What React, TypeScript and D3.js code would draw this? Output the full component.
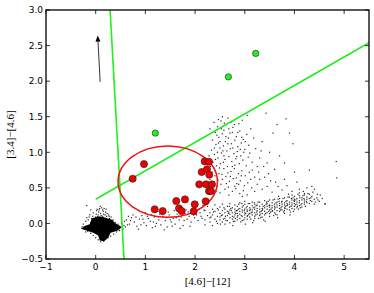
import React from "react";
import * as d3 from "d3";

const xTicks = [-1, 0, 1, 2, 3, 4, 5];
const yTicks = [-0.5, 0.0, 0.5, 1.0, 1.5, 2.0, 2.5, 3.0];

// dense stellar locus outline (data units)
const coreOutline: [number, number][] = [
  [-0.08, 0.07], [0.05, 0.1], [0.15, 0.09], [0.33, 0.05], [0.4, 0.0], [0.53, -0.05],
  [0.45, -0.1], [0.3, -0.13], [0.25, -0.2], [0.17, -0.25], [0.08, -0.24], [0.05, -0.17],
  [-0.05, -0.13], [-0.28, -0.08], [-0.24, -0.04], [-0.12, -0.01],
];

const coreFuzz: [number, number][] = [
  [-0.18,0.08],[-0.12,0.12],[-0.05,0.15],[0.02,0.18],[0.08,0.21],[0.14,0.19],[0.2,0.16],[0.26,0.12],[0.31,0.09],[0.35,0.05],
  [-0.2,0.03],[-0.15,0.05],[-0.08,0.07],[0.0,0.09],[0.05,0.12],[0.1,0.14],[0.16,0.13],[0.22,0.1],[0.28,0.07],[0.04,0.05],
  [0.09,0.08],[0.13,0.06],[0.18,0.07],[0.24,0.04],[-0.1,0.01],[-0.02,0.03],[0.06,0.16],[0.11,0.11],[0.19,0.12],[0.01,0.13],
  [-0.06,0.1],[0.15,0.17],[0.23,0.14],[0.07,0.19],[0.12,0.22],[0.03,0.2],[0.17,0.21],[-0.13,0.09],[0.27,0.1],[0.33,0.02],
  [0.4,0.01],[0.45,-0.01],[0.52,0.0],[0.57,-0.03],[0.55,-0.08],[0.48,-0.1],[0.42,-0.12],[0.36,-0.15],[0.3,-0.18],[0.25,-0.2],
  [0.2,-0.22],[0.16,-0.25],[0.1,-0.26],[0.05,-0.23],[0.0,-0.2],[-0.05,-0.17],[-0.1,-0.14],[-0.16,-0.11],[-0.22,-0.08],[-0.27,-0.05],
  [-0.25,-0.01],[-0.28,-0.07],[-0.2,-0.12],[0.6,-0.05],[0.64,-0.02],[0.58,0.03],[0.38,-0.05],[0.44,-0.06],[-0.18,0.25],[-0.1,0.19],
  [0.09,0.24],[0.21,0.2],[0.04,0.09],[0.14,0.1],[-0.03,0.06],[0.19,0.03],
];

const trail: [number, number][] = [
  [0.62,0.05],[0.68,-0.01],[0.72,0.08],[0.78,0.02],[0.83,-0.04],[0.88,0.06],[0.93,0.11],[0.97,0.01],[1.02,-0.03],[1.06,0.07],
  [1.1,0.03],[1.14,-0.06],[1.18,0.09],[1.22,0.0],[1.27,0.05],[1.31,-0.02],[1.35,0.1],[1.4,0.04],[1.44,-0.05],[1.48,0.12],
  [1.52,0.02],[1.56,0.07],[1.6,-0.01],[1.64,0.13],[1.68,0.05],[1.72,0.09],[1.76,-0.03],[1.8,0.14],[1.84,0.06],[1.88,0.1],
  [1.92,0.02],[1.95,0.16],[1.99,0.08],[2.03,0.12],[2.06,0.04],[0.75,0.12],[1.0,0.15],[1.25,0.17],[0.86,-0.08],[1.38,-0.09],
  [1.58,0.18],[1.7,-0.07],[2.1,0.15],[2.14,0.07],[2.18,0.19],[0.66,0.1],[1.12,0.12],[1.46,0.16],[1.9,-0.04],[1.62,0.08],
  [0.7,0.04],[0.81,0.09],[0.91,-0.02],[1.04,0.1],[1.16,0.02],[1.29,0.13],[1.42,0.08],[1.54,-0.04],[1.66,0.1],[1.78,0.04],
  [1.86,0.16],[1.97,0.12],[2.08,0.2],[2.12,0.1],[2.16,0.25],[2.05,0.27],[0.95,0.06],[1.2,-0.04],[1.5,0.05],[1.82,0.19],
];

const plume: [number, number][] = [
  [2.38,1.42],[2.45,1.36],[2.52,1.44],[2.58,1.31],[2.63,1.39],[2.7,1.27],[2.76,1.35],[2.83,1.22],[2.9,1.3],[2.97,1.18],
  [3.04,1.25],[2.41,1.28],[2.48,1.21],[2.55,1.26],[2.61,1.15],[2.67,1.2],[2.73,1.12],[2.8,1.17],[2.86,1.08],[2.93,1.13],
  [3.0,1.04],[3.08,1.1],[2.35,1.17],[2.42,1.11],[2.5,1.06],[2.57,1.09],[2.64,1.02],[2.71,1.05],[2.78,0.98],[2.85,1.01],
  [2.92,0.95],[3.1,0.99],[2.33,1.03],[2.39,0.97],[2.46,0.92],[2.53,0.99],[2.6,0.9],[2.68,0.94],[2.74,0.87],[2.82,0.91],
  [2.89,0.84],[2.96,0.89],[3.03,0.81],[3.15,0.86],[2.36,0.86],[2.43,0.81],[2.51,0.84],[2.58,0.77],[2.65,0.8],[2.72,0.73],
  [2.79,0.77],[2.87,0.7],[2.94,0.74],[3.01,0.67],[3.09,0.72],[3.2,0.65],[2.34,0.72],[2.4,0.67],[2.48,0.7],[2.55,0.62],
  [2.62,0.66],[2.69,0.59],[2.77,0.63],[2.84,0.56],[2.91,0.6],[2.99,0.53],[3.06,0.57],[3.14,0.5],[3.25,0.55],[3.35,0.48],
  [2.37,0.58],[2.44,0.52],[2.52,0.55],[2.6,0.48],[2.67,0.51],[2.75,0.45],[2.82,0.49],[2.9,0.42],[2.97,0.46],[3.05,0.4],
  [3.3,0.62],[3.45,0.52],[3.55,0.44],[3.62,0.58],[3.75,0.47],[3.85,0.53],[3.95,0.45],[4.1,0.48],[4.25,0.5],[4.35,0.52],
  [2.47,1.46],[2.66,1.48],[2.88,1.4],[3.12,1.33],[3.18,1.2],[3.22,1.05],[3.3,0.92],[3.38,0.8],[3.48,0.7],[3.05,1.52],
  [3.43,1.55],[3.83,1.47],[3.65,1.39],[3.9,1.27],[3.57,1.27],[3.35,1.15],[3.7,0.95],[4.0,0.72],[3.5,1.0],[2.55,1.5],
  [2.3,1.33],[2.28,0.95],[2.31,0.8],[2.3,0.62],[2.95,1.45],[2.72,1.42],[3.15,0.75],[3.25,0.8],[3.4,0.65],[2.58,0.95],
  [2.8,0.82],[2.45,1.0],[2.62,1.22],[2.5,1.15],[2.75,1.28],[2.98,1.0],
  [2.44,1.24],[2.53,1.33],[2.59,1.41],[2.68,1.33],[2.79,1.39],[2.86,1.28],[2.94,1.21],[3.01,1.15],[2.39,1.06],[2.47,1.13],
  [2.56,1.02],[2.66,1.12],[2.76,1.06],[2.84,0.94],[2.91,1.04],[3.07,0.93],[2.41,0.9],[2.49,0.78],[2.57,0.86],[2.66,0.71],
  [2.75,0.8],[2.83,0.64],[2.93,0.67],[3.12,0.62],[2.46,0.61],[2.54,0.69],[2.63,0.56],[2.71,0.66],[2.8,0.52],[2.88,0.55],
  [2.33,0.49],[2.42,0.45],[3.2,0.45],[3.52,0.6],[3.67,0.52],[3.8,0.62],[4.05,0.58],[4.2,0.42],[3.28,0.72],[3.45,0.85],
  [3.6,0.76],[3.33,1.02],[2.5,0.43],[2.68,0.4],[2.95,0.38],
];

const band: [number, number][] = [
  [2.2,0.05],[2.2,0.18],[2.2,-0.02],[2.25,0.11],[2.25,0.24],[2.3,0.02],[2.3,0.15],[2.3,0.08],[2.35,0.2],[2.35,-0.03],
  [2.35,0.12],[2.4,0.06],[2.4,0.17],[2.4,0.26],[2.45,0.1],[2.45,0.0],[2.45,0.21],[2.5,0.14],[2.5,0.05],[2.5,0.23],
  [2.5,0.09],[2.55,0.18],[2.55,0.02],[2.55,0.12],[2.55,0.27],[2.6,0.07],[2.6,0.2],[2.6,0.15],[2.6,-0.01],[2.65,0.11],
  [2.65,0.24],[2.65,0.04],[2.65,0.17],[2.7,0.19],[2.7,0.08],[2.7,0.13],[2.7,0.28],[2.7,0.01],[2.75,0.15],[2.75,0.22],
  [2.75,0.06],[2.75,0.1],[2.8,0.2],[2.8,0.12],[2.8,0.03],[2.8,0.26],[2.8,0.16],[2.85,0.09],[2.85,0.18],[2.85,0.24],
  [2.85,0.14],[2.85,0.05],[2.9,0.21],[2.9,0.13],[2.9,0.07],[2.9,0.29],[2.9,0.17],[2.95,0.16],[2.95,0.1],[2.95,0.23],
  [2.95,0.04],[2.95,0.19],[3.0,0.2],[3.0,0.12],[3.0,0.27],[3.0,0.08],[3.0,0.15],[3.0,0.31],[3.05,0.17],[3.05,0.24],
  [3.05,0.1],[3.05,0.19],[3.05,0.06],[3.1,0.22],[3.1,0.14],[3.1,0.28],[3.1,0.09],[3.1,0.18],[3.15,0.19],[3.15,0.12],
  [3.15,0.25],[3.15,0.16],[3.15,0.3],[3.2,0.23],[3.2,0.15],[3.2,0.1],[3.2,0.2],[3.2,0.27],[3.2,0.07],[3.25,0.18],
  [3.25,0.26],[3.25,0.13],[3.25,0.21],[3.3,0.24],[3.3,0.16],[3.3,0.3],[3.3,0.11],[3.3,0.2],[3.35,0.21],[3.35,0.27],
  [3.35,0.14],[3.35,0.18],[3.35,0.09],[3.4,0.25],[3.4,0.17],[3.4,0.32],[3.4,0.22],[3.4,0.12],[3.45,0.2],[3.45,0.28],
  [3.45,0.15],[3.45,0.24],[3.5,0.26],[3.5,0.19],[3.5,0.33],[3.5,0.14],[3.5,0.23],[3.5,0.1],[3.55,0.22],[3.55,0.29],
  [3.55,0.17],[3.55,0.25],[3.6,0.27],[3.6,0.2],[3.6,0.34],[3.6,0.15],[3.6,0.24],[3.65,0.23],[3.65,0.3],[3.65,0.18],
  [3.65,0.26],[3.65,0.12],[3.7,0.28],[3.7,0.21],[3.7,0.35],[3.7,0.17],[3.7,0.25],[3.75,0.24],[3.75,0.31],[3.75,0.19],
  [3.75,0.27],[3.8,0.29],[3.8,0.22],[3.8,0.36],[3.8,0.18],[3.8,0.26],[3.8,0.14],[3.85,0.25],[3.85,0.32],[3.85,0.2],
  [3.85,0.28],[3.9,0.3],[3.9,0.23],[3.9,0.37],[3.9,0.19],[3.9,0.27],[3.95,0.26],[3.95,0.33],[3.95,0.21],[3.95,0.29],
  [3.95,0.4],[4.0,0.31],[4.0,0.24],[4.0,0.38],[4.0,0.2],[4.0,0.28],[4.0,0.34],[4.05,0.27],[4.05,0.35],[4.05,0.22],
  [4.05,0.3],[4.1,0.32],[4.1,0.25],[4.1,0.39],[4.1,0.29],[4.1,0.43],[4.15,0.28],[4.15,0.36],[4.15,0.23],[4.15,0.33],
  [4.2,0.33],[4.2,0.27],[4.2,0.4],[4.2,0.3],[4.25,0.29],[4.25,0.37],[4.25,0.34],[4.3,0.35],[4.3,0.28],[4.3,0.41],
  [4.35,0.31],[4.35,0.38],[4.4,0.34],[4.4,0.27],[4.45,0.36],[4.5,0.31],[4.62,0.28],[4.52,0.4],
  [2.83,0.18],[2.93,0.11],[3.03,0.22],[3.13,0.15],[3.23,0.25],[3.33,0.17],[3.43,0.27],[3.53,0.2],[3.63,0.29],[3.73,0.22],
  [3.83,0.31],[3.93,0.24],[4.03,0.33],[4.13,0.26],[2.68,0.16],[2.78,0.09],[2.88,0.27],[2.98,0.05],[3.08,0.13],[3.18,0.04],
  [3.28,0.07],[3.38,0.05],[3.48,0.17],[3.58,0.11],[3.68,0.38],[3.78,0.16],[3.88,0.41],[3.98,0.17],[4.08,0.2],[4.18,0.45],
  [2.32,0.09],[2.37,0.16],[2.43,0.03],[2.47,0.19],[2.53,0.11],[2.58,0.22],[2.62,0.04],[2.67,0.14],[2.72,0.21],[2.77,0.03],
  [2.82,0.14],[2.87,0.2],[2.92,0.02],[2.97,0.25],[3.02,0.14],[3.07,0.28],[3.12,0.06],[3.17,0.22],[3.22,0.12],[3.27,0.3],
  [3.32,0.08],[3.37,0.24],[3.42,0.14],[3.47,0.31],[3.52,0.16],[3.57,0.33],[3.62,0.13],[3.67,0.34],[3.72,0.19],[3.77,0.35],
  [3.82,0.24],[3.87,0.37],[3.92,0.16],[3.97,0.36],[4.02,0.26],[4.07,0.41],[4.12,0.22],[4.17,0.39],[4.22,0.24],[4.27,0.42],
  [4.32,0.32],[4.37,0.44],[4.42,0.3],[4.47,0.33],[2.61,0.1],[2.73,0.18],[2.86,0.11],[2.99,0.18],[3.11,0.2],[3.24,0.16],
  [3.36,0.2],[3.49,0.25],[3.61,0.22],[3.74,0.3],[3.86,0.26],[3.99,0.32],[4.11,0.36],[4.24,0.31],[2.57,0.06],[2.69,0.24],
  [2.81,0.07],[2.94,0.28],[3.06,0.11],[3.19,0.29],[3.31,0.13],[3.44,0.3],[3.56,0.18],[3.69,0.31],[3.81,0.21],[3.94,0.35],
  [4.06,0.24],[4.19,0.35],[4.33,0.36],[3.16,0.01],[3.41,0.03],[3.66,0.08],[3.91,0.12],[2.51,-0.01],[2.76,-0.03],[3.01,-0.01],
  [4.46,0.41],[4.56,0.35],[4.4,0.48],
];

const outliers: [number, number][] = [
  [4.84,0.87],[4.85,0.64],[4.61,0.27],[3.97,1.12],[4.3,0.75],[3.8,0.85],
];

const redX = [0.744, 0.972, 1.187, 1.348, 1.622, 1.676, 1.73, 1.797, 1.972, 1.992, 2.084, 2.133, 2.193, 2.219, 2.213, 2.239, 2.28, 2.286, 2.28, 2.32, 2.34];
const redY = [0.628, 0.834, 0.198, 0.174, 0.315, 0.212, 0.174, 0.338, 0.17, 0.268, 0.549, 0.722, 0.872, 0.549, 0.31, 0.76, 0.867, 0.684, 0.455, 0.455, 0.549];

const greenX = [1.2, 2.67, 3.22];
const greenY = [1.27, 2.06, 2.39];

// selection boundary lines
const line1: [number, number][] = [[0.29, 3.0], [0.57, -0.5]];
const line2: [number, number][] = [[0.0, 0.34], [5.5, 2.54]];
// ellipse: center and semi-axes (data units)
const ellipseC = [1.45, 0.588];
const ellipseR = [1.0, 0.502];
// reddening arrow
const arrow: [number, number][] = [[0.09, 1.99], [0.04, 2.64]];

const W = 374, H = 293;
const L = 46, R = 369, T = 10, B = 259;

export default function App() {
  const x = d3.scaleLinear().domain([-1, 5.5]).range([L, R]);
  const y = d3.scaleLinear().domain([-0.5, 3.0]).range([B, T]);
  const line = d3.line<[number, number]>().x(d => x(d[0])).y(d => y(d[1]));
  const corePath = d3.line<[number, number]>().x(d => x(d[0])).y(d => y(d[1])).curve(d3.curveLinearClosed)(coreOutline) || "";
  const dots = [...coreFuzz, ...trail, ...plume, ...band, ...outliers];
  const fmtY = (v: number) => v.toFixed(1).replace("-", "\u2212");
  const fmtX = (v: number) => String(v).replace("-", "\u2212");
  const ax0 = x(arrow[0][0]), ay0 = y(arrow[0][1]), ax1 = x(arrow[1][0]), ay1 = y(arrow[1][1]);
  const ang = Math.atan2(ay1 - ay0, ax1 - ax0);
  const hl = 6, hw = 2.5;
  const hx = ax1 - hl * Math.cos(ang), hy = ay1 - hl * Math.sin(ang);
  const px = -Math.sin(ang) * hw, py = Math.cos(ang) * hw;
  return (
    <svg width={W} height={H} style={{ position: "absolute", left: 0, top: 0, background: "#fff" }}>
      <defs>
        <clipPath id="plot"><rect x={L} y={T} width={R - L} height={B - T} /></clipPath>
      </defs>
      <rect x={0} y={0} width={W} height={H} fill="#fff" />
      <g clipPath="url(#plot)">
        <path d={corePath} fill="#000" />
        {dots.map((d, i) => (
          <rect key={i} x={x(d[0]) - 0.6} y={y(d[1]) - 0.6} width={1.2} height={1.2} fill="#000" fillOpacity={0.85} />
        ))}
        <path d={line(line1) || ""} stroke="#22ee22" strokeWidth={1.6} fill="none" />
        <path d={line(line2) || ""} stroke="#22ee22" strokeWidth={1.6} fill="none" />
        <ellipse cx={x(ellipseC[0])} cy={y(ellipseC[1])} rx={x(ellipseC[0] + ellipseR[0]) - x(ellipseC[0])}
          ry={y(ellipseC[1]) - y(ellipseC[1] + ellipseR[1])} fill="none" stroke="#ee1111" strokeWidth={1.5} />
        {redX.map((v, i) => (
          <circle key={"r" + i} cx={x(v)} cy={y(redY[i])} r={3.6} fill="#ee0000" stroke="#222" strokeWidth={0.6} />
        ))}
        {greenX.map((v, i) => (
          <circle key={"g" + i} cx={x(v)} cy={y(greenY[i])} r={3.2} fill="#22ee22" stroke="#222" strokeWidth={0.6} />
        ))}
        <line x1={ax0} y1={ay0} x2={hx} y2={hy} stroke="#333" strokeWidth={1} />
        <path d={`M${ax1},${ay1}L${hx + px},${hy + py}L${hx - px},${hy - py}Z`} fill="#000" />
      </g>
      {xTicks.map(t => (
        <g key={"x" + t}>
          <line x1={x(t)} x2={x(t)} y1={B} y2={B - 4} stroke="#000" strokeWidth={0.8} />
          <line x1={x(t)} x2={x(t)} y1={T} y2={T + 4} stroke="#000" strokeWidth={0.8} />
          <text x={x(t)} y={270} fontSize={9} fontFamily="DejaVu Sans" textAnchor="middle">{fmtX(t)}</text>
        </g>
      ))}
      {yTicks.map(t => (
        <g key={"y" + t}>
          <line x1={L} x2={L + 4} y1={y(t)} y2={y(t)} stroke="#000" strokeWidth={0.8} />
          <line x1={R} x2={R - 4} y1={y(t)} y2={y(t)} stroke="#000" strokeWidth={0.8} />
          <text x={43} y={y(t) + 3.3} fontSize={9} fontFamily="DejaVu Sans" textAnchor="end">{fmtY(t)}</text>
        </g>
      ))}
      <rect x={L} y={T} width={R - L} height={B - T} fill="none" stroke="#000" strokeWidth={1.3} />
      <text x={(L + R) / 2} y={285} fontSize={11} fontFamily="Liberation Serif" textAnchor="middle">[4.6]{"\u2212"}[12]</text>
      <text transform={`translate(14,${(T + B) / 2}) rotate(-90)`} fontSize={11} fontFamily="Liberation Serif" textAnchor="middle">[3.4]{"\u2212"}[4.6]</text>
    </svg>
  );
}
